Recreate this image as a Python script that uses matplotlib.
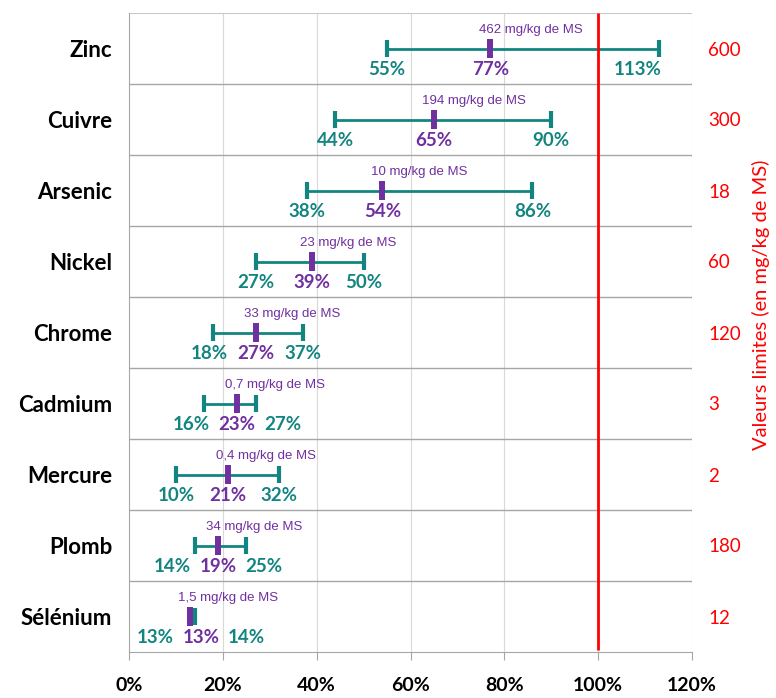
import matplotlib
matplotlib.use("Agg")
import matplotlib.pyplot as plt
import numpy as np

categories = ["Zinc", "Cuivre", "Arsenic", "Nickel", "Chrome", "Cadmium", "Mercure", "Plomb", "Sélénium"]
pct_min = [55, 44, 38, 27, 18, 16, 10, 14, 13]
pct_mean = [77, 65, 54, 39, 27, 23, 21, 19, 13]
pct_max = [113, 90, 86, 50, 37, 27, 32, 25, 14]
concentrations = ["462", "194", "10", "23", "33", "0,7", "0,4", "34", "1,5"]
limits = ["600", "300", "18", "60", "120", "3", "2", "180", "12"]
xticks = [0, 20, 40, 60, 80, 100, 120]

TEAL = "#138580"
PURPLE = "#7030A0"
RED = "#FF0000"
FONT = "Lato"

fig = plt.figure(figsize=(7.76, 6.98), dpi=100)
ax = fig.add_axes([129/776, 1-652/698, (692-129)/776, (652-13)/698])

n = len(categories)
ys = np.arange(n) + 0.5

ax.set_xlim(0, 120)
ax.set_ylim(n, 0)

# grid
for xt in xticks[1:]:
    ax.axvline(xt, color="#d9d9d9", lw=0.8, zorder=0)
for k in range(1, n):
    ax.axhline(k, color="#a6a6a6", lw=1.0, zorder=1)
ax.axhline(0, color="#c8c8c8", lw=1.5, zorder=1)

GAP = 9.8
for i, y in enumerate(ys):
    ax.plot([pct_min[i], pct_max[i]], [y, y], color=TEAL, lw=2, zorder=2, solid_capstyle="butt")
    for v in (pct_min[i], pct_max[i]):
        ax.plot([v, v], [y - 0.125, y + 0.125], color=TEAL, lw=3, zorder=2, solid_capstyle="butt")
    ax.plot([pct_mean[i]] * 2, [y - 0.13, y + 0.13], color=PURPLE, lw=4.3, zorder=3, solid_capstyle="butt")

    # label placement: avoid overlaps and edges
    a = min(pct_min[i], pct_mean[i] - GAP)
    m = float(pct_mean[i])
    b = max(pct_max[i], pct_mean[i] + GAP)
    if a < 5.5:
        s = 5.5 - a
        a, m, b = a + s, m + s, b + s
    b = min(b, 108.5)
    ax.text(a, y + 0.29, f"{pct_min[i]}%", color=TEAL, fontsize=13.5, fontweight="bold",
            family=FONT, ha="center", va="center", zorder=4)
    ax.text(m, y + 0.29, f"{pct_mean[i]}%", color=PURPLE, fontsize=13.5, fontweight="bold",
            family=FONT, ha="center", va="center", zorder=4)
    ax.text(b, y + 0.29, f"{pct_max[i]}%", color=TEAL, fontsize=13.5, fontweight="bold",
            family=FONT, ha="center", va="center", zorder=4)
    ax.text(pct_mean[i] - 2.5, y - 0.26, f"{concentrations[i]} mg/kg de MS", color=PURPLE,
            fontsize=9.5, family="Liberation Sans", ha="left", va="center", zorder=4)

ax.plot([100, 100], [0, n - 0.03], color=RED, lw=2, zorder=5, solid_capstyle="butt")

ax.set_xticks(xticks)
ax.set_xticklabels([f"{v}%" for v in xticks], fontsize=14, fontweight="bold", family=FONT)
ax.tick_params(axis="x", length=6, color="#a6a6a6", pad=12)
ax.set_yticks(ys)
ax.set_yticklabels(categories, fontsize=16, fontweight="bold", family=FONT)
ax.tick_params(axis="y", length=0, pad=12)

for s in ["top", "right"]:
    ax.spines[s].set_visible(False)
ax.spines["left"].set_color("#a6a6a6")
ax.spines["bottom"].set_color("#a6a6a6")

ax2 = ax.twinx()
ax2.set_ylim(n, 0)
ax2.set_yticks(ys)
ax2.set_yticklabels(limits, fontsize=13.5, family=FONT, color=RED)
ax2.tick_params(axis="y", length=0, pad=11.5)
for s in ax2.spines.values():
    s.set_visible(False)
ax2.set_ylabel("Valeurs limites (en mg/kg de MS)", color=RED, fontsize=14.5, family=FONT)
ax2.yaxis.set_label_coords((752 - 129) / 563, (652 - 305) / 639)

fig.savefig("out.png", dpi=100)
